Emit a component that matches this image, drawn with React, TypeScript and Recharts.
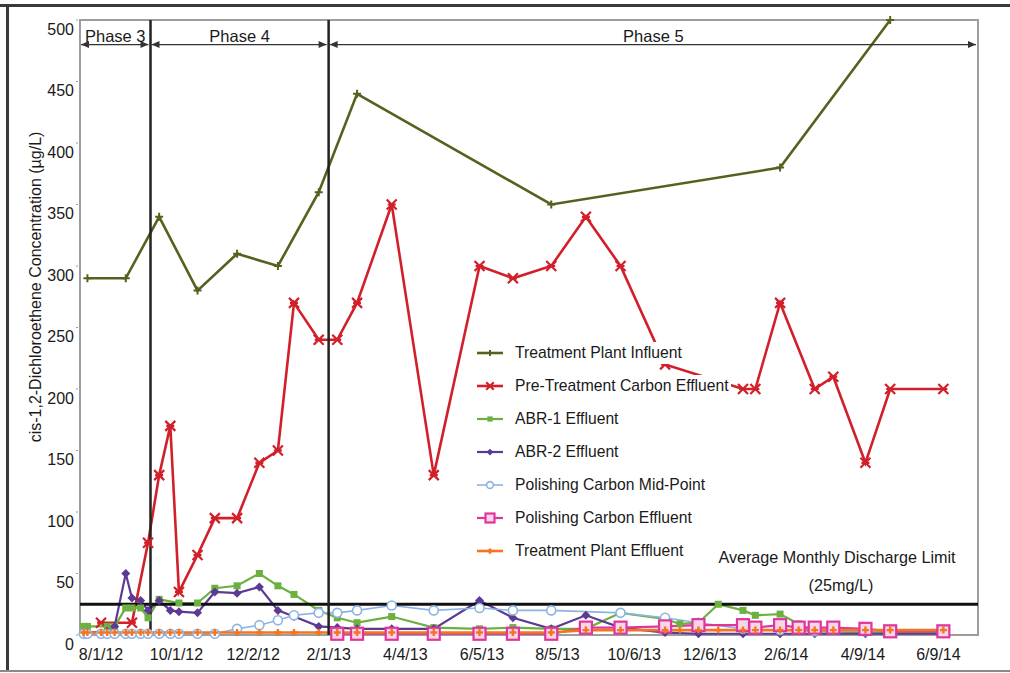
import {
  LineChart, Line, XAxis, YAxis,
  ReferenceLine, ReferenceArea, Legend,
} from 'recharts'

// sampling dates shared by all series (null = not sampled for that series)
const sampleDates = [
  '2012-07-18', '2012-07-21', '2012-08-01', '2012-08-06', '2012-08-12',
  '2012-08-21', '2012-08-26', '2012-09-02', '2012-09-08', '2012-09-17',
  '2012-09-26', '2012-10-03', '2012-10-18', '2012-11-01', '2012-11-19',
  '2012-12-07', '2012-12-22', '2013-01-04', '2013-01-24', '2013-02-08',
  '2013-02-24', '2013-03-24', '2013-04-27', '2013-06-03', '2013-06-30',
  '2013-07-31', '2013-08-28', '2013-09-25', '2013-10-31', '2013-11-12',
  '2013-11-27', '2013-12-13', '2014-01-02', '2014-01-12', '2014-02-01',
  '2014-02-16', '2014-03-01', '2014-03-16', '2014-04-11', '2014-05-01',
  '2014-06-13',
]

const plantInfluent = [
  null, 290, null, null, null, 290, null, null, null, 340,
  null, null, 280, null, 310, null, 300, null, 360, null,
  440, null, null, null, null, 350, null, null, null, null,
  null, null, null, null, 380, null, null, null, null, 500,
  null,
]

const preTreatmentCarbon = [
  null, null, 10, null, null, null, 10, null, 75, 130,
  170, 35, 65, 95, 95, 140, 150, 270, 240, 240,
  270, 350, 130, 300, 290, 300, 340, 300, 220, null,
  null, null, 200, 200, 270, null, 200, 210, 140, 200,
  200,
]

const abr1 = [
  7, 7, null, 7, 7, 22, 22, 22, 14, 29,
  null, 26, 26, 38, 40, 50, 40, 33, 20, 14,
  10, 15, 6, 5, 6, 5, 5, 18, 13, 9,
  10, 25, 20, 16, 17, 9, 3, 3, 2, 2,
  2,
]

const abr2 = [
  null, 2, null, 3, 7, 50, 30, 28, 20, 28,
  20, 19, 18, 35, 34, 39, 20, 15, 7, 6,
  5, 5, 5, 28, 14, 5, 16, 6, 2, null,
  1, null, 1, null, 1, null, 1, null, 1, null,
  1,
]

const polishingMidPoint = [
  1, 1, 1, 1, 1, 1, 1, 1, 1, 1,
  1, 1, 1, 1, 5, 8, 12, 16, 18, 18,
  20, 24, 20, 22, 20, 20, null, 18, 14, null,
  10, null, 5, null, 4, null, 3, null, 3, null,
  3,
]

const polishingEffluent = [
  null, null, null, null, null, null, null, null, null, null,
  null, null, null, null, null, null, null, null, null, 1,
  1, 1, 1, 1, 1, 1, 6, 6, 7, null,
  8, null, 8, 6, 8, 6, 6, 6, 5, 3,
  3,
]

const plantEffluent = [
  2, 2, 2, 2, 2, 2, 2, 2, 2, 2,
  2, 2, 2, 2, 2, 2, 2, 2, 2, 2,
  2, 2, 2, 2, 2, 2, 4, 4, 4, 4,
  4, 4, 4, 4, 4, 4, 4, 4, 4, 4,
  4,
]

const tickDates = [
  '2012-08-01', '2012-10-01', '2012-12-02', '2013-02-01', '2013-04-04', '2013-06-05',
  '2013-08-05', '2013-10-06', '2013-12-06', '2014-02-06', '2014-04-09', '2014-06-09',
]
const yTicks = [0, 50, 100, 150, 200, 250, 300, 350, 400, 450, 500]

const phaseNames = ['Phase 3', 'Phase 4', 'Phase 5']
const phaseStarts = ['2012-07-15', '2012-09-10', '2013-02-01']
const phaseEnds = ['2012-09-10', '2013-02-01', '2014-07-11']
const DISCHARGE_LIMIT = 25

const FONT = "'Liberation Sans', Arial, sans-serif"
const INK = '#1a1a1a'
const DAY = 86400000
const toDay = (s: string) => Date.parse(s) / DAY
const fmtDay = (d: number) => {
  const dt = new Date(d * DAY)
  return `${dt.getUTCMonth() + 1}/${dt.getUTCDate()}/${String(dt.getUTCFullYear()).slice(2)}`
}

type Mark = 'plus' | 'cross' | 'square' | 'diamond' | 'circle' | 'box' | 'small'

const series: { key: string; name: string; values: (number | null)[]; color: string; mark: Mark; width: number }[] = [
  { key: 'influent', name: 'Treatment Plant Influent', values: plantInfluent, color: '#55621f', mark: 'plus', width: 2.6 },
  { key: 'pretreat', name: 'Pre-Treatment Carbon Effluent', values: preTreatmentCarbon, color: '#d2202a', mark: 'cross', width: 2.6 },
  { key: 'abr1', name: 'ABR-1 Effluent', values: abr1, color: '#6cb040', mark: 'square', width: 2.2 },
  { key: 'abr2', name: 'ABR-2 Effluent', values: abr2, color: '#5c3a94', mark: 'diamond', width: 2.2 },
  { key: 'mid', name: 'Polishing Carbon Mid-Point', values: polishingMidPoint, color: '#8db3e2', mark: 'circle', width: 1.6 },
  { key: 'polish', name: 'Polishing Carbon Effluent', values: polishingEffluent, color: '#e0359b', mark: 'box', width: 2.2 },
  { key: 'effluent', name: 'Treatment Plant Effluent', values: plantEffluent, color: '#f47521', mark: 'small', width: 2.6 },
]

const rows = sampleDates.map((d, i) => {
  const row: Record<string, number | null> = { t: toDay(d) }
  series.forEach(s => { row[s.key] = s.values[i] })
  return row
})

function Marker({ kind, x, y, color, scale = 1 }: { kind: Mark; x: number; y: number; color: string; scale?: number }) {
  const k = scale
  switch (kind) {
    case 'plus':
      return <path d={`M${x - 4 * k},${y}H${x + 4 * k}M${x},${y - 4 * k}V${y + 4 * k}`} stroke={color} strokeWidth={2} />
    case 'cross':
      return <path d={`M${x - 5 * k},${y - 5 * k}L${x + 5 * k},${y + 5 * k}M${x - 5 * k},${y + 5 * k}L${x + 5 * k},${y - 5 * k}M${x - 4 * k},${y}H${x + 4 * k}`} stroke={color} strokeWidth={2.2} />
    case 'square':
      return <rect x={x - 3.5 * k} y={y - 3.5 * k} width={7 * k} height={7 * k} fill={color} />
    case 'diamond':
      return <path d={`M${x},${y - 4.5 * k}L${x + 4.5 * k},${y}L${x},${y + 4.5 * k}L${x - 4.5 * k},${y}Z`} fill={color} />
    case 'circle':
      return <circle cx={x} cy={y} r={4.5 * k} fill="#fff" stroke={color} strokeWidth={1.6} />
    case 'box':
      return <rect x={x - 6 * k} y={y - 6 * k} width={12 * k} height={12 * k} fill="#f7d6e8" stroke={color} strokeWidth={2.2} />
    case 'small':
      return <path d={`M${x - 3.5 * k},${y}H${x + 3.5 * k}M${x},${y - 3.5 * k}V${y + 3.5 * k}`} stroke={color} strokeWidth={2.4} />
  }
}

function PhaseArrow(props: any) {
  const { x1, x2, y1, name } = props
  const a = x1 + 1
  const b = x2 - 2
  return (
    <g>
      <line x1={a} x2={b} y1={y1} y2={y1} stroke="#333" strokeWidth={1.4} />
      <path d={`M${a},${y1}l8,-3.5v7z`} fill="#333" />
      <path d={`M${b},${y1}l-8,-3.5v7z`} fill="#333" />
      <text x={(x1 + x2) / 2} y={y1 - 3} textAnchor="middle" fontFamily={FONT} fontSize={16.5} fill={INK}>{name}</text>
    </g>
  )
}

function LimitLabel(props: any) {
  const { viewBox } = props
  if (!viewBox) return null
  const cx = viewBox.x + viewBox.width - 141
  return (
    <text textAnchor="middle" fontFamily={FONT} fontSize={16.2} fill={INK}>
      <tspan x={cx} y={viewBox.y - 41}>Average Monthly Discharge Limit</tspan>
      <tspan x={cx + 4} y={viewBox.y - 13}>(25mg/L)</tspan>
    </text>
  )
}

function YTitle(props: any) {
  const { viewBox } = props
  if (!viewBox) return null
  const x = viewBox.x + 15
  const y = viewBox.y + 267
  return (
    <text x={x} y={y} transform={`rotate(-90, ${x}, ${y})`} textAnchor="middle" dominantBaseline="central"
      fontFamily={FONT} fontSize={16} fill={INK}>
      cis-1,2-Dichloroethene Concentration (µg/L)
    </text>
  )
}

function LegendBox() {
  return (
    <div>
      {series.map(s => (
        <div key={s.key} style={{ height: 33, display: 'flex', alignItems: 'center' }}>
          <div style={{ display: 'flex', alignItems: 'center', background: '#fff', paddingRight: 2 }}>
            <svg width={28} height={14}>
              <line x1={1} x2={27} y1={7} y2={7} stroke={s.color} strokeWidth={s.width} />
              <Marker kind={s.mark} x={14} y={7} color={s.color} scale={0.75} />
            </svg>
            <span style={{ marginLeft: 11, fontFamily: FONT, fontSize: 15.7, color: INK, whiteSpace: 'nowrap', lineHeight: '22px' }}>{s.name}</span>
          </div>
        </div>
      ))}
    </div>
  )
}

export default function App() {
  const xMin = toDay('2012-07-15')
  const xMax = toDay('2014-07-11')
  return (
    <div style={{ position: 'absolute', left: 0, top: 0, width: 1010, height: 673, background: '#fff' }}>
      <LineChart width={1010} height={673} data={rows} margin={{ top: 20, right: 32, bottom: 8, left: 20 }}>
        <ReferenceArea x1={xMin} x2={xMax} y1={0} y2={500} fill="none" stroke="#9d9d9d" strokeWidth={2} />
        <XAxis
          dataKey="t" type="number" domain={[xMin, xMax]} ticks={tickDates.map(toDay)}
          height={30} axisLine={false} tickLine={false} tickSize={0} tickMargin={0}
          tick={(p: any) => (
            <text x={p.x} y={p.y + 25} textAnchor="middle" fontFamily={FONT} fontSize={16} fill={INK}>
              {fmtDay(p.payload.value)}
            </text>
          )}
        />
        <YAxis
          type="number" domain={[0, 500]} ticks={yTicks} width={60}
          axisLine={false} tickLine={false} tickSize={0} tickMargin={6}
          tick={(p: any) => (
            <g>
              <text x={p.x} y={p.y + 9} textAnchor="end" dominantBaseline="central" fontFamily={FONT} fontSize={16} fill={INK}>
                {p.payload.value}
              </text>
              <line x1={p.x + 2} x2={p.x + 4} y1={p.y} y2={p.y} stroke="#999" />
            </g>
          )}
          label={<YTitle />}
        />
        {series.map(s => (
          <Line
            key={s.key}
            dataKey={s.key}
            name={s.name}
            stroke={s.color}
            strokeWidth={s.width}
            connectNulls
            isAnimationActive={false}
            dot={(p: any) => (p.value == null || p.cy == null
              ? <g key={`${s.key}-${p.index}`} />
              : <g key={`${s.key}-${p.index}`}><Marker kind={s.mark} x={p.cx} y={p.cy} color={s.color} /></g>)}
          />
        ))}
        <ReferenceLine y={DISCHARGE_LIMIT} stroke="#111" strokeWidth={3} label={<LimitLabel />} />
        <ReferenceLine x={toDay(phaseStarts[1])} stroke="#222" strokeWidth={2.5} />
        <ReferenceLine x={toDay(phaseStarts[2])} stroke="#222" strokeWidth={2.5} />
        {phaseNames.map((name, i) => (
          <ReferenceLine
            key={name}
            segment={[{ x: toDay(phaseStarts[i]), y: 480 }, { x: toDay(phaseEnds[i]), y: 480 }]}
            shape={(p: any) => <PhaseArrow {...p} name={name} />}
          />
        ))}
        <Legend
          layout="vertical" align="center" verticalAlign="middle"
          wrapperStyle={{ left: 476, top: 336, bottom: 'auto', right: 'auto', width: 'auto', height: 'auto' }}
          content={() => <LegendBox />}
        />
      </LineChart>
      <div style={{ position: 'absolute', left: 0, top: 4, width: 1010, height: 3, background: '#3a3a3a' }} />
      <div style={{ position: 'absolute', left: 6, top: 4, width: 3, height: 667, background: '#3a3a3a' }} />
      <div style={{ position: 'absolute', left: 0, top: 670, width: 1010, height: 2, background: '#8a8a8a' }} />
    </div>
  )
}
